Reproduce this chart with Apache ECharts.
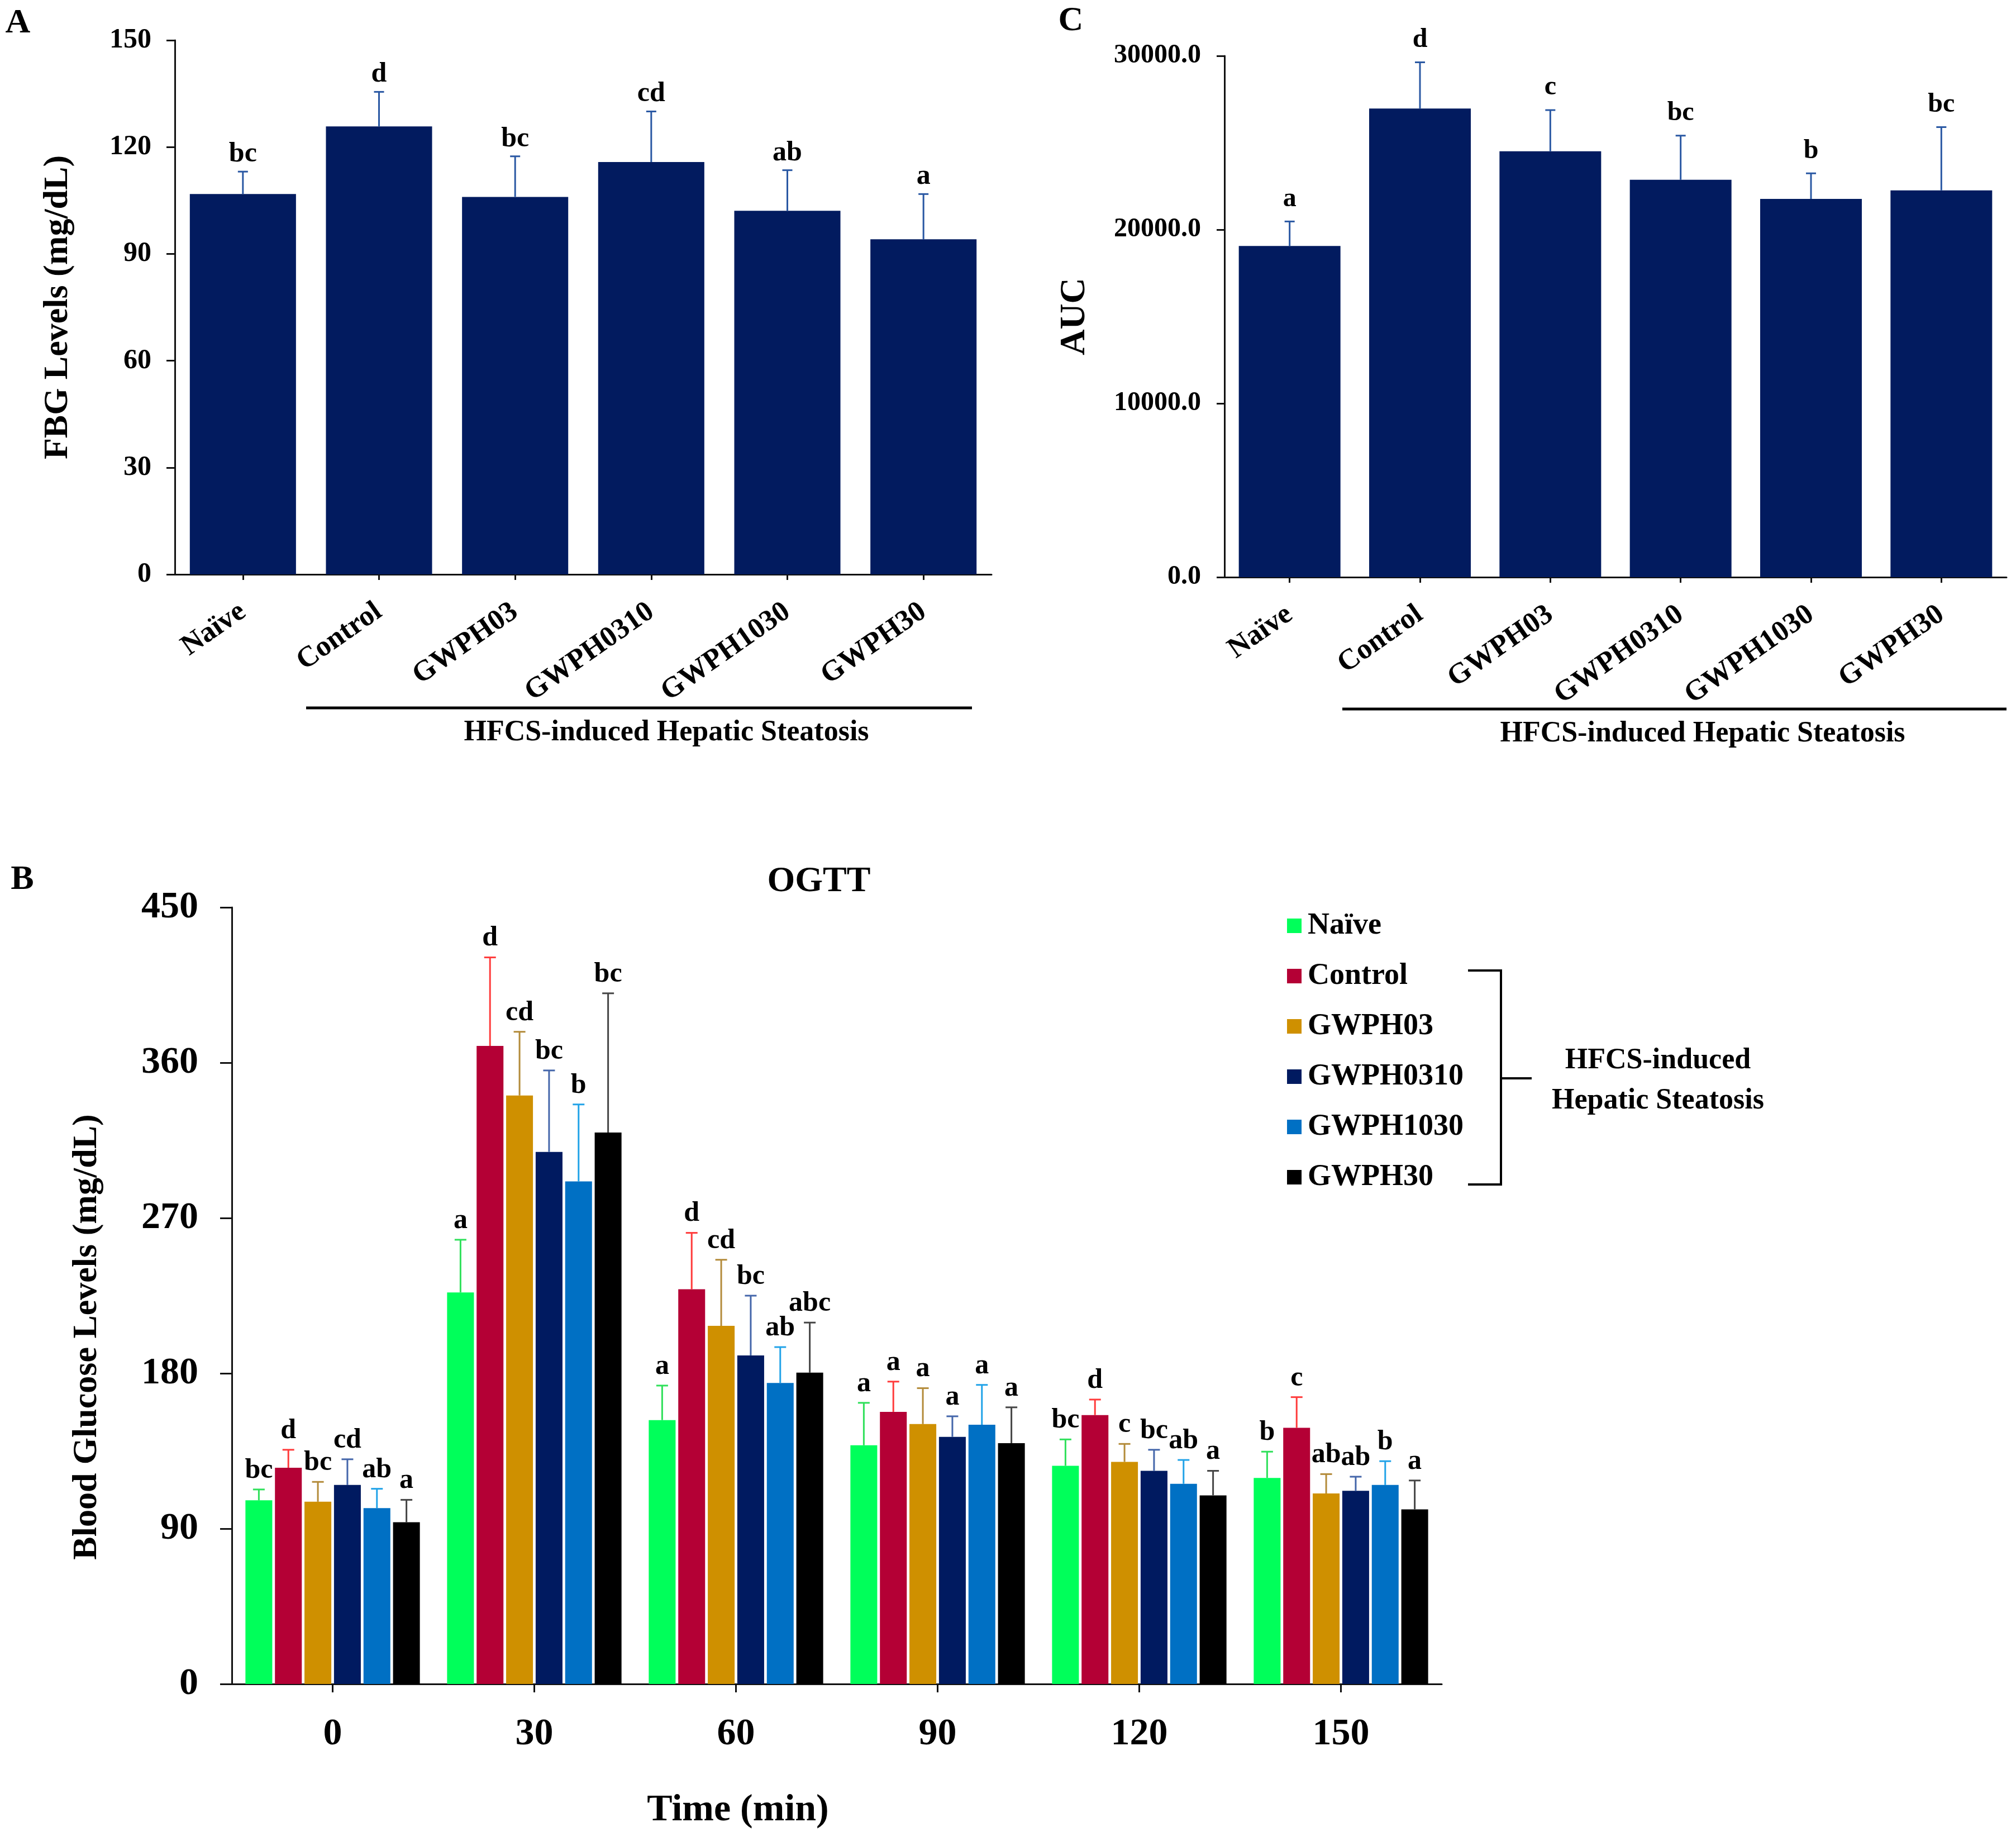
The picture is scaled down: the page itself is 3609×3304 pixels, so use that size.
<!DOCTYPE html>
<html>
<head>
<meta charset="utf-8">
<script src="https://cdn.jsdelivr.net/npm/echarts@6/dist/echarts.min.js"></script>
<style>
  html, body { margin: 0; padding: 0; background: #fff; }
  #chart { width: 3609px; height: 3304px; }
</style>
</head>
<body>
<div id="chart"></div>
<script>
// ---- data ----
const groups = ["Naïve", "Control", "GWPH03", "GWPH0310", "GWPH1030", "GWPH30"];

// panel A: fasting blood glucose
const fbgMean = [106.8, 125.8, 106.0, 115.8, 102.1, 94.1];
const fbgErr = [6.3, 9.7, 11.4, 14.2, 11.4, 12.7];
const fbgLetters = ["bc", "d", "bc", "cd", "ab", "a"];

// panel C: AUC
const aucMean = [19060, 26970, 24510, 22870, 21770, 22260];
const aucErr = [1410, 2660, 2370, 2540, 1470, 3640];
const aucLetters = ["a", "d", "c", "bc", "b", "bc"];

// panel B: OGTT
const times = ["0", "30", "60", "90", "120", "150"];
const ogttMean = {
  "Naïve":    [106.4, 226.9, 152.9, 138.3, 126.4, 119.4],
  "Control":  [125.3, 369.7, 228.7, 157.7, 155.8, 148.4],
  "GWPH03":   [105.6, 341.0, 207.5, 150.6, 128.7, 110.4],
  "GWPH0310": [115.3, 308.3, 190.4, 143.2, 123.5, 111.9],
  "GWPH1030": [101.9, 291.2, 174.4, 150.2, 116.0, 115.3],
  "GWPH30":   [93.7, 319.5, 180.4, 139.5, 109.3, 101.2]
};
const ogttErr = {
  "Naïve":    [6.3, 30.5, 20.0, 24.6, 15.3, 15.2],
  "Control":  [10.4, 51.3, 32.7, 17.5, 9.0, 17.8],
  "GWPH03":   [11.5, 36.9, 38.3, 20.8, 10.4, 11.2],
  "GWPH0310": [14.9, 47.2, 34.6, 11.9, 12.2, 8.2],
  "GWPH1030": [11.2, 44.6, 20.8, 23.1, 13.8, 13.8],
  "GWPH30":   [13.0, 80.7, 29.0, 20.8, 14.2, 16.7]
};
const ogttLetters = {
  "Naïve":    ["bc", "a", "a", "a", "bc", "b"],
  "Control":  ["d", "d", "d", "a", "d", "c"],
  "GWPH03":   ["bc", "cd", "cd", "a", "c", "ab"],
  "GWPH0310": ["cd", "bc", "bc", "a", "bc", "ab"],
  "GWPH1030": ["ab", "b", "ab", "a", "ab", "b"],
  "GWPH30":   ["a", "bc", "abc", "a", "a", "a"]
};

// ---- styles ----
const FONT = "'Liberation Serif', 'Times New Roman', serif";
const navy = "#021b5f";
const navyErr = "#2a58a3";
const barColors = ["#00ff5a", "#b40035", "#cf9000", "#001a60", "#0070c4", "#000000"];
const errColors = ["#2fe05a", "#ff3b3b", "#b38b3a", "#4466aa", "#22a3e8", "#454545"];

const CAT_GAP = 0.135, BAR_GAP = 0.1;

function errRenderer(letters, color, capW, fontSize, lift, nBars, k) {
  return function (params, api) {
    const i = api.value(0), m = api.value(1), e = api.value(2);
    const band = api.size([1, 0])[0];
    let off = 0;
    if (nBars > 1) {
      const inner = band * (1 - CAT_GAP);
      const bw = inner / (nBars + (nBars - 1) * BAR_GAP);
      off = -inner / 2 + k * bw * (1 + BAR_GAP) + bw / 2;
    }
    const p0 = api.coord([i, m]);
    const p1 = api.coord([i, m + e]);
    const x = p0[0] + off;
    return {
      type: "group",
      children: [
        { type: "line", shape: { x1: x, y1: p0[1], x2: x, y2: p1[1] }, style: { stroke: color, lineWidth: 3 } },
        { type: "line", shape: { x1: x - capW / 2, y1: p1[1], x2: x + capW / 2, y2: p1[1] }, style: { stroke: color, lineWidth: 3 } },
        { type: "text", x: x, y: p1[1] - lift,
          style: { text: letters[params.dataIndex], fill: "#000", font: "bold " + fontSize + "px " + FONT,
                   textAlign: "center", textVerticalAlign: "bottom" } }
      ]
    };
  };
}

const axisLine = { show: true, lineStyle: { color: "#111", width: 3 } };
const boldText = (size) => ({ fontFamily: FONT, fontWeight: "bold", fontSize: size, color: "#000" });

function catAxis(gridIndex, data, rotate, size, margin, tickLen) {
  return {
    type: "category", gridIndex: gridIndex, data: data,
    axisLine: axisLine,
    axisTick: { show: true, alignWithLabel: true, length: tickLen, lineStyle: { color: "#111", width: 3 } },
    axisLabel: Object.assign({ rotate: rotate, margin: margin, interval: 0 }, boldText(size))
  };
}
function valAxis(gridIndex, max, interval, size, margin, tickLen, name, nameGap, nameSize, fmt, namePad) {
  return {
    type: "value", gridIndex: gridIndex, min: 0, max: max, interval: interval,
    splitLine: { show: false },
    axisLine: axisLine,
    axisTick: { show: true, length: tickLen, lineStyle: { color: "#111", width: 3 } },
    axisLabel: Object.assign({ margin: margin, formatter: fmt }, boldText(size)),
    name: name, nameLocation: "middle", nameGap: nameGap, nameRotate: 90,
    nameTextStyle: Object.assign({ padding: namePad || 0 }, boldText(nameSize))
  };
}

const series = [];
// panel A
series.push({ type: "bar", xAxisIndex: 0, yAxisIndex: 0, data: fbgMean, barCategoryGap: "22%",
  itemStyle: { color: navy }, silent: true });
series.push({ type: "custom", xAxisIndex: 0, yAxisIndex: 0, z: 5,
  data: fbgMean.map((v, i) => [i, v, fbgErr[i]]),
  renderItem: errRenderer(fbgLetters, navyErr, 18, 50, 6, 1, 0) });
// panel C
series.push({ type: "bar", xAxisIndex: 1, yAxisIndex: 1, data: aucMean, barCategoryGap: "22%",
  itemStyle: { color: navy }, silent: true });
series.push({ type: "custom", xAxisIndex: 1, yAxisIndex: 1, z: 5,
  data: aucMean.map((v, i) => [i, v, aucErr[i]]),
  renderItem: errRenderer(aucLetters, navyErr, 18, 48, 16, 1, 0) });
// panel B
groups.forEach((g, k) => {
  series.push({ name: g, type: "bar", xAxisIndex: 2, yAxisIndex: 2, data: ogttMean[g],
    barGap: (BAR_GAP * 100) + "%", barCategoryGap: (CAT_GAP * 100) + "%",
    itemStyle: { color: barColors[k] } });
});
groups.forEach((g, k) => {
  series.push({ name: g + " err", type: "custom", xAxisIndex: 2, yAxisIndex: 2, z: 5,
    data: ogttMean[g].map((v, i) => [i, v, ogttErr[g][i]]),
    renderItem: errRenderer(ogttLetters[g], errColors[k], 21, 50, 9, groups.length, k) });
});

const txt = (x, y, text, size, align) => ({
  type: "text", x: x, y: y,
  style: { text: text, font: "bold " + size + "px " + FONT, fill: "#000",
           textAlign: align || "center", textVerticalAlign: "middle" }
});
const seg = (x1, y1, x2, y2, w) => ({
  type: "line", shape: { x1: x1, y1: y1, x2: x2, y2: y2 }, style: { stroke: "#000", lineWidth: w }
});

const option = {
  animation: false,
  backgroundColor: "#fff",
  grid: [
    { left: 313, top: 72, width: 1462, height: 956 },
    { left: 2192, top: 100, width: 1400, height: 933 },
    { left: 415, top: 1624, width: 2166, height: 1390 }
  ],
  xAxis: [
    catAxis(0, groups, 35, 52, 62, 10),
    catAxis(1, groups, 35, 52, 62, 10),
    Object.assign(catAxis(2, times, 0, 68, 56, 15), {
      name: "Time (min)", nameLocation: "middle", nameGap: 192,
      nameTextStyle: Object.assign({ padding: [0, 354, 0, 0] }, boldText(68))
    })
  ],
  yAxis: [
    valAxis(0, 150, 30, 50, 42, 15, "FBG Levels (mg/dL)", 178, 62, (v) => String(v)),
    valAxis(1, 30000, 10000, 48, 42, 14, "AUC", 236, 64, (v) => v.toFixed(1)),
    valAxis(2, 450, 90, 68, 60, 21, "Blood Glucose Levels (mg/dL)", 228, 62, (v) => String(v), [0, 148, 0, 0])
  ],
  legend: {
    data: groups, orient: "vertical", left: 2299, top: 1622,
    icon: "rect", itemWidth: 26, itemHeight: 26, itemGap: 30,
    textStyle: Object.assign({ lineHeight: 60, padding: [0, 0, 0, 6] }, boldText(54))
  },
  graphic: [
    txt(32, 42, "A", 62),
    txt(1917, 38, "C", 62),
    txt(40, 1575, "B", 62),
    txt(1466, 1578, "OGTT", 64),
    seg(548, 1267, 1740, 1267, 5),
    txt(1193, 1312, "HFCS-induced Hepatic Steatosis", 52),
    seg(2403, 1269, 3592, 1269, 5),
    txt(3048, 1314, "HFCS-induced Hepatic Steatosis", 52),
    { type: "polyline", shape: { points: [[2628, 1737], [2687, 1737], [2687, 2120], [2628, 2120]] },
      style: { stroke: "#000", lineWidth: 4, fill: null } },
    seg(2687, 1930, 2742, 1930, 4),
    txt(2968, 1899, "HFCS-induced", 52),
    txt(2968, 1971, "Hepatic Steatosis", 52)
  ],
  series: series
};

const chart = echarts.init(document.getElementById("chart"));
chart.setOption(option);
</script>
</body>
</html>
